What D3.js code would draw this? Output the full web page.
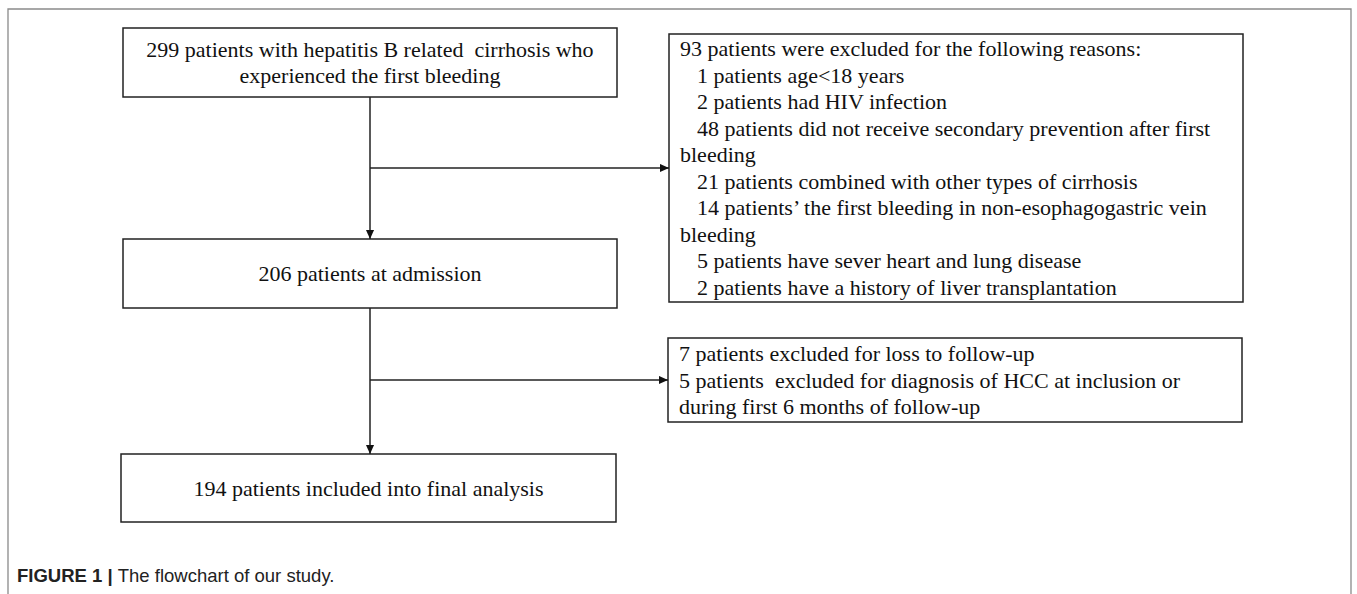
<html>
<head>
<meta charset="utf-8">
<script src="https://d3js.org/d3.v7.min.js"></script>
<style>
  body { margin: 0; background: #fff; }
  text.box { fill: #111; white-space: pre; }
  text.caption { fill: #222; }
</style>
</head>
<body>
<svg width="1357" height="594"></svg>
<script>
// Main flow boxes (top to bottom)
const mainSteps = [
  ["299 patients with hepatitis B related  cirrhosis who", "experienced the first bleeding"],
  ["206 patients at admission"],
  ["194 patients included into final analysis"]
]

// Exclusion boxes, [text, indented?]
const exclusionA = [
  ["93 patients were excluded for the following reasons:", false],
  ["1 patients age<18 years", true],
  ["2 patients had HIV infection", true],
  ["48 patients did not receive secondary prevention after first", true],
  ["bleeding", false],
  ["21 patients combined with other types of cirrhosis", true],
  ["14 patients\u2019 the first bleeding in non-esophagogastric vein", true],
  ["bleeding", false],
  ["5 patients have sever heart and lung disease", true],
  ["2 patients have a history of liver transplantation", true]
]
const exclusionB = [
  ["7 patients excluded for loss to follow-up", false],
  ["5 patients  excluded for diagnosis of HCC at inclusion or", false],
  ["during first 6 months of follow-up", false]
]

const captionBold = "FIGURE 1 | "
const captionText = "The flowchart of our study."

const serif = "'Liberation Serif', 'Times New Roman', Tinos, 'DejaVu Serif', serif"
const sans = "'Liberation Sans', Arial, Helvetica, sans-serif"

const svg = d3.select("svg")

// layout scales (pixel space)
const x = d3.scaleLinear().domain([0, 1]).range([0, 1])
const y = d3.scaleLinear().domain([0, 1]).range([0, 1])
const lineH = 26.5
const fontSize = 22

// box geometry: left, top, right, bottom
const mainBoxes = [
  { x0: 123, y0: 28, x1: 617, y1: 97 },
  { x0: 123, y0: 239, x1: 617, y1: 308 },
  { x0: 121, y0: 454, x1: 616, y1: 522 }
]
const exBoxes = [
  { x0: 669, y0: 34, x1: 1243, y1: 302, lines: exclusionA, branchY: 168 },
  { x0: 668, y0: 338, x1: 1242, y1: 422, lines: exclusionB, branchY: 380 }
]
const spineX = 370

// outer frame
svg.append("path")
  .attr("d", `M${x(8)},${y(600)} V${y(9)} H${x(1351)} V${y(600)}`)
  .attr("fill", "none").attr("stroke", "#8a8a8a").attr("stroke-width", 1.3)

// arrow marker
svg.append("defs").append("marker")
  .attr("id", "arr").attr("viewBox", "0 0 10 10")
  .attr("refX", 10).attr("refY", 5)
  .attr("markerWidth", 9).attr("markerHeight", 9)
  .attr("markerUnits", "userSpaceOnUse")
  .attr("orient", "auto")
  .append("path").attr("d", "M0,0.5 L10,5 L0,9.5 Z").attr("fill", "#111")

const lineStyle = sel => sel.attr("stroke", "#222").attr("stroke-width", 1.5).attr("fill", "none")

// main boxes
mainBoxes.forEach((b, i) => {
  svg.append("rect")
    .attr("x", x(b.x0)).attr("y", y(b.y0))
    .attr("width", x(b.x1) - x(b.x0)).attr("height", y(b.y1) - y(b.y0))
    .call(lineStyle)
  const lines = mainSteps[i]
  const cy = (y(b.y0) + y(b.y1)) / 2
  svg.append("g").selectAll("text")
    .data(lines).join("text")
    .attr("class", "box")
    .attr("font-family", serif).attr("font-size", fontSize)
    .attr("x", (x(b.x0) + x(b.x1)) / 2)
    .attr("y", (d, j) => cy + (j - (lines.length - 1) / 2) * lineH)
    .attr("dy", "0.35em")
    .attr("text-anchor", "middle")
    .text(d => d)
})

// vertical arrows between main boxes
for (let i = 0; i < mainBoxes.length - 1; i++) {
  svg.append("line")
    .attr("x1", x(spineX)).attr("x2", x(spineX))
    .attr("y1", y(mainBoxes[i].y1)).attr("y2", y(mainBoxes[i + 1].y0))
    .call(lineStyle)
    .attr("marker-end", "url(#arr)")
}

// exclusion boxes and branch arrows
exBoxes.forEach(b => {
  svg.append("rect")
    .attr("x", x(b.x0)).attr("y", y(b.y0))
    .attr("width", x(b.x1) - x(b.x0)).attr("height", y(b.y1) - y(b.y0))
    .call(lineStyle)
  const n = b.lines.length
  const cy = (y(b.y0) + y(b.y1)) / 2
  svg.append("g").selectAll("text")
    .data(b.lines).join("text")
    .attr("class", "box")
    .attr("font-family", serif).attr("font-size", fontSize)
    .attr("x", d => x(b.x0) + 11 + (d[1] ? 17 : 0))
    .attr("y", (d, j) => cy + (j - (n - 1) / 2) * lineH)
    .attr("dy", "0.35em")
    .text(d => d[0])
  svg.append("line")
    .attr("x1", x(spineX)).attr("x2", x(b.x0))
    .attr("y1", y(b.branchY)).attr("y2", y(b.branchY))
    .call(lineStyle)
    .attr("marker-end", "url(#arr)")
})

// caption
const cap = svg.append("text").attr("class", "caption")
  .attr("font-family", sans).attr("font-size", 18.5)
  .attr("x", 17).attr("y", 582)
cap.append("tspan").attr("font-weight", "bold").text(captionBold)
cap.append("tspan").text(captionText)
</script>
</body>
</html>
